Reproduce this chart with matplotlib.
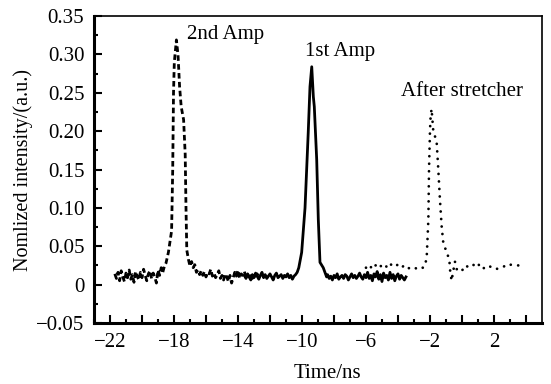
import numpy as np
import matplotlib
matplotlib.use('Agg')
import matplotlib.pyplot as plt

plt.rcParams['font.family'] = ['Liberation Serif', 'DejaVu Serif']
plt.rcParams['font.size'] = 15

# 2nd Amp (dashed) -- noise before peak, peak, noise after
t2_pre = np.round(np.arange(-21.7, -18.45, 0.1), 2)
v2_pre = [0.014, 0.008, 0.016, 0.005, 0.018, 0.010, 0.004, 0.015, 0.009, 0.019,
          0.007, 0.013, 0.003, 0.017, 0.011, 0.006, 0.016, 0.009, 0.020, 0.012,
          0.005, 0.014, 0.018, 0.008, 0.015, 0.010, 0.002, 0.019, 0.012, 0.022,
          0.016, 0.024, 0.028]
t2_pk = [-18.35, -18.25, -18.15, -18.08, -18.03, -17.98, -17.85, -17.75, -17.65,
         -17.55, -17.4, -17.3, -17.25, -17.2, -17.1, -17.0]
v2_pk = [0.042, 0.056, 0.07, 0.15, 0.25, 0.29, 0.319, 0.30, 0.258,
         0.232, 0.215, 0.17, 0.10, 0.045, 0.033, 0.024]
t2_post = np.round(np.arange(-16.9, -12.55, 0.1), 2)
v2_post = [0.030, 0.022, 0.026, 0.016, 0.019, 0.013, 0.018, 0.012, 0.017, 0.010,
           0.016, 0.014, 0.020, 0.011, 0.015, 0.009, 0.013, 0.018, 0.008, 0.012,
           0.006, 0.014, 0.010, 0.004, 0.012, 0.002, 0.009, 0.016, 0.011, 0.019,
           0.008, 0.014, 0.012, 0.017, 0.009, 0.013, 0.010, 0.015, 0.008, 0.012,
           0.011, 0.014, 0.009, 0.012]

# 1st Amp (solid)
t1_pre = np.round(np.arange(-13.6, -10.25, 0.1), 2)
v1_pre = [0.012, 0.008, 0.014, 0.010, 0.006, 0.013, 0.009, 0.015, 0.011, 0.007,
          0.012, 0.016, 0.009, 0.013, 0.008, 0.011, 0.014, 0.010, 0.006, 0.012,
          0.015, 0.009, 0.011, 0.013, 0.008, 0.012, 0.010, 0.014, 0.009, 0.012,
          0.007, 0.011, 0.013, 0.016]
t1_pk = [-10.2, -10.02, -9.81, -9.61, -9.5, -9.39, -9.29, -9.23, -9.08, -8.98,
         -8.875, -8.67, -8.46]
v1_pk = [0.022, 0.042, 0.10, 0.198, 0.258, 0.284, 0.245, 0.232, 0.163, 0.085,
         0.029, 0.022, 0.010]
t1_post = np.round(np.linspace(-8.4, -3.5, 50), 2)
v1_post = [0.013, 0.008, 0.011, 0.006, 0.012, 0.009, 0.014, 0.007, 0.010, 0.012,
           0.008, 0.013, 0.011, 0.006, 0.010, 0.014, 0.009, 0.012, 0.008, 0.011,
           0.015, 0.010, 0.007, 0.013, 0.009, 0.016, 0.008, 0.012, 0.005, 0.014,
           0.010, 0.017, 0.007, 0.013, 0.004, 0.015, 0.009, 0.012, 0.006, 0.016,
           0.008, 0.013, 0.005, 0.011, 0.014, 0.007, 0.012, 0.009, 0.006, 0.010]

# After stretcher (dotted)
t3 = [-6.0, -5.8, -5.6, -5.4, -5.2, -5.0, -4.8, -4.6, -4.4, -4.2, -4.0, -3.8,
      -3.6, -3.4, -3.2, -3.0, -2.8, -2.6, -2.4, -2.21, -2.1, -2.06, -2.0, -1.96,
      -1.9, -1.8, -1.58, -1.48, -1.375, -1.27, -1.17, -0.96, -0.79, -0.75, -0.65,
      -0.55, -0.44, -0.3, 0.0, 0.19, 0.5, 0.94, 1.25, 1.63, 2.06, 2.5, 2.875,
      3.19, 3.75]
v3 = [0.022, 0.026, 0.020, 0.025, 0.028, 0.022, 0.025, 0.021, 0.027, 0.024,
      0.026, 0.022, 0.025, 0.021, 0.022, 0.023, 0.020, 0.022, 0.022, 0.033,
      0.085, 0.150, 0.200, 0.219, 0.229, 0.202, 0.185, 0.150, 0.110, 0.076,
      0.055, 0.042, 0.033, 0.020, 0.005, 0.017, 0.030, 0.018, 0.018, 0.025,
      0.022, 0.029, 0.020, 0.025, 0.020, 0.022, 0.027, 0.025, 0.025]

xticks = list(range(-22, 5, 2))
xlabels = ['\u221222', '', '\u221218', '', '\u221214', '', '\u221210', '',
           '\u22126', '', '\u22122', '', '2', '']
yticks = [-0.05, 0, 0.05, 0.10, 0.15, 0.20, 0.25, 0.30, 0.35]
ylabels = ['\u22120.05', '0', '0.05', '0.10', '0.15', '0.20', '0.25', '0.30', '0.35']

fig = plt.figure(figsize=(5.51, 3.84), dpi=100)
ax = fig.add_axes([0.1706, 0.159, 0.813, 0.799])

t2 = np.concatenate([t2_pre, t2_pk, t2_post])
v2 = np.concatenate([v2_pre, v2_pk, v2_post])
t1 = np.concatenate([t1_pre, t1_pk, t1_post])
v1 = np.concatenate([v1_pre, v1_pk, v1_post])

ax.plot(t2, v2, color='black', lw=2, linestyle=(0, (2.0, 1.2)))
ax.plot(t1, v1, color='black', lw=2)
ax.plot(t3, v3, color='black', lw=2, linestyle=(0, (0.01, 2.7)),
        dash_capstyle='round')

ax.text(-17.2, 0.326, '2nd Amp', va='center', ha='left')
ax.text(-9.81, 0.304, '1st Amp', va='center', ha='left')
ax.text(-3.83, 0.252, 'After stretcher', va='center', ha='left')

ax.set_xlim(-23, 5)
ax.set_ylim(-0.05, 0.35)
ax.set_xticks(xticks)
ax.set_xticklabels(xlabels)
ax.set_xticks(np.arange(-23, 5, 1), minor=True)
ax.set_yticks(yticks)
ax.set_yticklabels(ylabels)
ax.set_yticks(np.arange(-0.025, 0.35, 0.05), minor=True)

ax.tick_params(which='major', direction='in', length=6, width=1.5, pad=7,
               top=False, right=False)
ax.tick_params(which='minor', direction='in', length=3, width=1.5,
               top=False, right=False)

for s in ['left', 'bottom']:
    ax.spines[s].set_linewidth(2.2)
for s in ['top', 'right']:
    ax.spines[s].set_linewidth(1.2)

ax.set_xlabel('Time/ns')
ax.xaxis.set_label_coords(0.52, -0.135)
ax.set_ylabel('Nomlized intensity/(a.u.)', fontsize=14.5, labelpad=2)

fig.savefig('out.png', dpi=100)
